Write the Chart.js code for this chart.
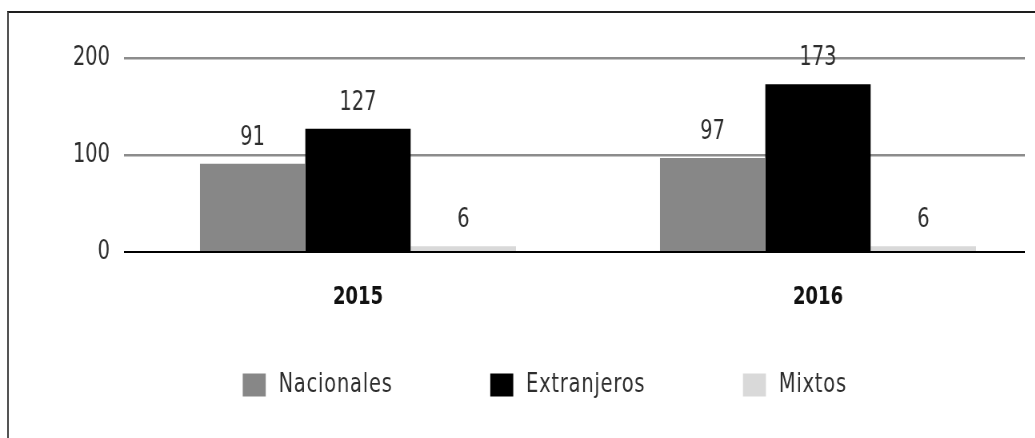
<!DOCTYPE html>
<html>
<head>
<meta charset="utf-8">
<script src="https://cdn.jsdelivr.net/npm/chart.js@4.4.1/dist/chart.umd.min.js"></script>
<style>
    body { margin: 0; background: #fff; width: 1035px; height: 438px; overflow: hidden; position: relative; }
    #frame { position: absolute; left: 7px; top: 11px; width: 1040px; height: 440px;
             border-top: 2px solid #1e1e1e; border-left: 2px solid #555; box-sizing: border-box; pointer-events: none; }
    #clip { position: absolute; left: 0; top: 0; width: 1025px; height: 438px; overflow: hidden; }
    /* the source font is a narrow condensed face: squeeze the canvas horizontally */
    #wrap { width: 1325px; height: 438px; transform: scaleX(0.8); transform-origin: 0 0; }
</style>
</head>
<body>
<div id="clip"><div id="wrap"><canvas id="chart" width="1325" height="438"></canvas></div></div>
<div id="frame"></div>
<script>
// Datos
const years = ['2015', '2016'];
const nacionales = [91, 97];
const extranjeros = [127, 173];
const mixtos = [6, 6];
const yTicks = [0, 100, 200];

const FONT = "'DejaVu Sans Condensed', sans-serif";
const COLORS = {
    nacionales: '#878787',
    extranjeros: '#000000',
    mixtos: '#d9d9d9',
    grid: '#8c8c8c',
    text: '#2e2e2e'
};

Chart.defaults.font.family = FONT;
Chart.defaults.color = COLORS.text;

// value labels above each bar
const valueLabels = {
    id: 'valueLabels',
    afterDatasetsDraw(chart) {
        const ctx = chart.ctx;
        ctx.save();
        ctx.font = `27px ${FONT}`;
        ctx.fillStyle = COLORS.text;
        ctx.textAlign = 'center';
        ctx.textBaseline = 'alphabetic';
        chart.data.datasets.forEach((ds, i) => {
            chart.getDatasetMeta(i).data.forEach((bar, j) => {
                ctx.fillText(String(ds.data[j]), bar.x, bar.y - 19);
            });
        });
        ctx.restore();
    }
};

// legend row: square, label, wide gap (like the original)
const legendRow = {
    id: 'legendRow',
    afterDraw(chart) {
        const ctx = chart.ctx;
        const boxW = 28.75, boxH = 23, textGap = 16, itemGap = 122, cy = 385;
        ctx.save();
        ctx.font = `27px ${FONT}`;
        ctx.letterSpacing = '1px';
        ctx.textBaseline = 'middle';
        const items = chart.data.datasets.map(ds => ({
            label: ds.label, color: ds.backgroundColor,
            w: boxW + textGap + ctx.measureText(ds.label).width
        }));
        const total = items.reduce((s, it) => s + it.w, 0) + itemGap * (items.length - 1);
        let x = 681 - total / 2;
        items.forEach(it => {
            ctx.fillStyle = it.color;
            ctx.fillRect(x, cy - boxH / 2, boxW, boxH);
            ctx.fillStyle = COLORS.text;
            ctx.fillText(it.label, x + boxW + textGap, cy);
            x += it.w + itemGap;
        });
        ctx.restore();
    }
};

const chart = new Chart(document.getElementById('chart'), {
    type: 'bar',
    data: {
        labels: years,
        datasets: [
            { label: 'Nacionales', data: nacionales, backgroundColor: COLORS.nacionales },
            { label: 'Extranjeros', data: extranjeros, backgroundColor: COLORS.extranjeros },
            { label: 'Mixtos', data: mixtos, backgroundColor: COLORS.mixtos }
        ]
    },
    options: {
        responsive: false,
        animation: false,
        categoryPercentage: 0.687,
        barPercentage: 1,
        layout: { padding: { left: 0, right: 15, top: 58, bottom: 106 } },
        scales: {
            x: {
                grid: { display: false, drawTicks: false },
                border: { display: false },
                ticks: { padding: 30, color: '#111', font: { size: 25, weight: 'bold' } },
                afterFit: s => { s.height = 80; }
            },
            y: {
                min: 0, max: 200,
                afterBuildTicks: s => { s.ticks = yTicks.map(v => ({ value: v })); },
                grid: {
                    color: c => c.tick && c.tick.value === 0 ? '#000' : COLORS.grid,
                    lineWidth: c => c.tick && c.tick.value === 0 ? 2 : 2.5,
                    drawTicks: true,
                    tickLength: 5
                },
                border: { display: false },
                ticks: { padding: 17.5, font: { size: 27 } },
                afterFit: s => { s.width = 160; }
            }
        },
        plugins: {
            legend: { display: false },
            tooltip: { enabled: false }
        }
    },
    plugins: [valueLabels, legendRow]
});
</script>
</body>
</html>
